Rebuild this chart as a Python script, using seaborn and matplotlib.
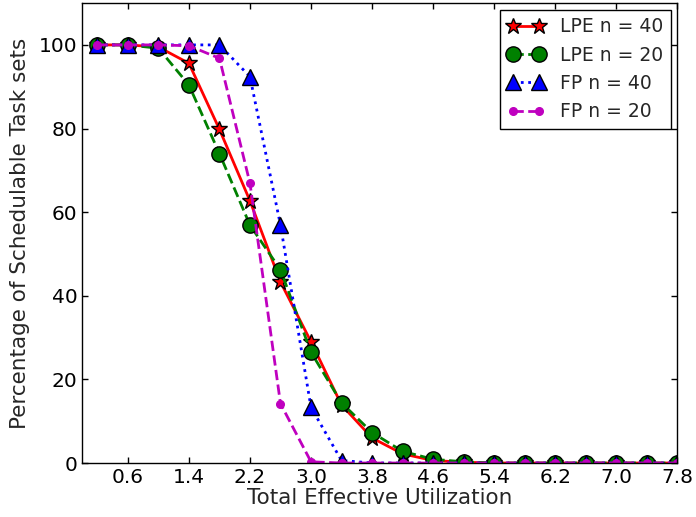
import matplotlib
matplotlib.use("Agg")
import matplotlib.pyplot as plt
import seaborn as sns
import numpy as np
import pandas as pd

util = [0.2, 0.6, 1.0, 1.4, 1.8, 2.2, 2.6, 3.0, 3.4, 3.8, 4.2, 4.6, 5.0, 5.4, 5.8, 6.2, 6.6, 7.0, 7.4, 7.8]
lpe40 = [100, 100, 99.5, 95.6, 79.8, 62.7, 43.3, 29.0, 13.9, 6.0, 2.2, 0.6, 0.2, 0, 0, 0, 0, 0, 0, 0]
lpe20 = [100, 100, 99.2, 90.4, 74.0, 56.9, 46.2, 26.5, 14.4, 7.3, 2.8, 0.9, 0.3, 0, 0, 0, 0, 0, 0, 0]
fp40 = [100, 100, 100, 100, 100, 92.4, 56.9, 13.3, 0.6, 0, 0, 0, 0, 0, 0, 0, 0, 0, 0, 0]
fp20 = [100, 100, 100, 99.8, 96.8, 66.9, 14.2, 0.3, 0, 0, 0, 0, 0, 0, 0, 0, 0, 0, 0, 0]
xticks = [0.6, 1.4, 2.2, 3.0, 3.8, 4.6, 5.4, 6.2, 7.0, 7.8]
yticks = [0, 20, 40, 60, 80, 100]

sns.set_style("white")
plt.rcParams.update({
    "font.family": ["DejaVu Sans"],
    "xtick.direction": "in", "ytick.direction": "in",
    "xtick.top": True, "ytick.right": True,
    "xtick.major.size": 4, "ytick.major.size": 4,
    "xtick.bottom": True, "ytick.left": True,
})

fig = plt.figure(figsize=(6.96, 5.17), dpi=100)
ax = fig.add_axes([0.118, 0.1044, 0.855, 0.8896])

series = [
    ("LPE n = 40", lpe40, "r", "-", "*", 12),
    ("LPE n = 20", lpe20, "g", "--", "o", 11),
    ("FP n = 40", fp40, "b", ":", "^", 11),
    ("FP n = 20", fp20, "m", "--", ".", 11),
]
for label, vals, c, ls, mk, ms in series:
    df = pd.DataFrame({"x": util, "y": vals})
    sns.lineplot(data=df, x="x", y="y", ax=ax, color=c, linestyle=ls, marker=mk,
                 markersize=ms, markeredgecolor="k" if mk != "." else c,
                 markeredgewidth=1, linewidth=2, label=label)

ax.set_xlim(0, 7.8)
ax.set_ylim(0, 110)
ax.set_xticks(xticks)
ax.set_xticklabels([f"{t:.1f}" for t in xticks])
ax.set_yticks(yticks)
ax.tick_params(labelsize=14.5, colors="k", width=1)
for s in ax.spines.values():
    s.set_color("k")
    s.set_linewidth(1)
ax.set_xlabel("Total Effective Utilization", fontsize=15.5, labelpad=1)
ax.set_ylabel("Percentage of Schedulable Task sets", fontsize=15.5, labelpad=6)
leg = ax.legend(loc="upper right", fontsize=13.5, numpoints=2, fancybox=False,
                frameon=True, edgecolor="k", framealpha=1, borderaxespad=0.35,
                handlelength=2.0)
leg.get_frame().set_linewidth(1)
fig.savefig("out.png", dpi=100)
